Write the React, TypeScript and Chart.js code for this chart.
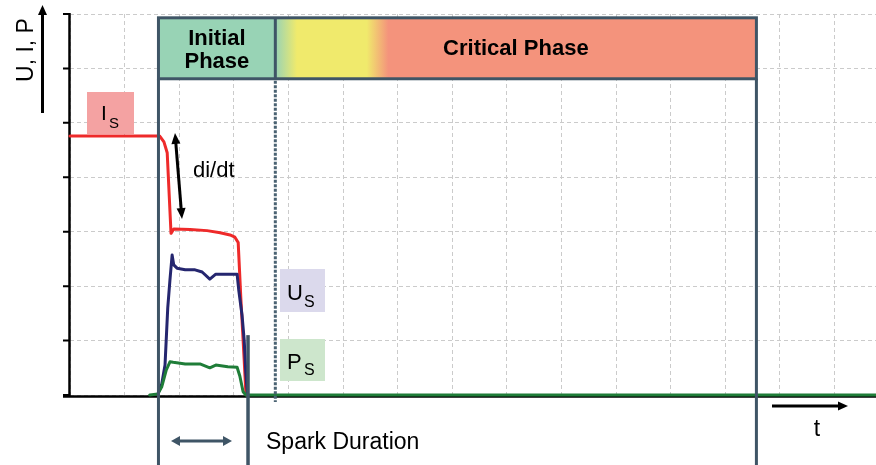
import React, { useEffect, useRef } from 'react';
import { Chart, registerables } from 'chart.js';

Chart.register(...registerables);

// ---- data (time and amplitude in grid units) ----
const currentTime = [0, 1.61, 1.64, 1.72, 1.78, 1.85, 1.90, 2.20, 2.51, 2.75, 2.93, 3.02, 3.08, 3.13, 3.19, 3.22, 3.24];
const currentValue = [4.76, 4.76, 4.76, 4.65, 4.45, 2.97, 3.05, 3.04, 3.02, 2.98, 2.94, 2.90, 2.80, 1.75, 0.64, 0.04, 0];

const voltageTime = [1.61, 1.68, 1.74, 1.79, 1.83, 1.87, 1.90, 1.96, 2.11, 2.29, 2.42, 2.56, 2.67, 2.89, 3.06, 3.09, 3.15, 3.19, 3.22, 3.25];
const voltageValue = [0.02, 0.20, 0.55, 1.60, 2.11, 2.57, 2.39, 2.33, 2.30, 2.30, 2.26, 2.13, 2.22, 2.22, 2.22, 1.93, 1.47, 1.01, 0.40, 0];

const powerTime = [1.46, 1.61, 1.68, 1.76, 1.83, 1.89, 2.11, 2.38, 2.56, 2.67, 2.89, 3.06, 3.11, 3.17, 3.22, 14.76];
const powerValue = [0, 0.02, 0.15, 0.45, 0.61, 0.60, 0.57, 0.57, 0.50, 0.55, 0.52, 0.51, 0.35, 0.06, 0, 0];

const X_MAX = 14.76;
const Y_MAX = 7;

// phase boundaries (time, grid units) and band limits (amplitude, grid units)
const sparkStart = 1.62;
const sparkEnd = 3.26;
const initialEnd = 3.76;
const criticalEnd = 12.57;
const bandTop = 6.93;
const bandBottom = 5.81;

const FONT = '"Liberation Sans", Arial, sans-serif';
const SLATE = '#3f5566';

function toPoints(xs: number[], ys: number[]) {
  return xs.map((x, i) => ({ x, y: ys[i] }));
}

function arrow(
  ctx: CanvasRenderingContext2D,
  x1: number, y1: number, x2: number, y2: number,
  both: boolean, color: string, width: number, hl: number, hw: number
) {
  const ang = Math.atan2(y2 - y1, x2 - x1);
  const cos = Math.cos(ang), sin = Math.sin(ang);
  ctx.save();
  ctx.strokeStyle = color;
  ctx.fillStyle = color;
  ctx.lineWidth = width;
  const sx = both ? x1 + cos * (hl - 1) : x1;
  const sy = both ? y1 + sin * (hl - 1) : y1;
  const ex = x2 - cos * (hl - 1);
  const ey = y2 - sin * (hl - 1);
  ctx.beginPath();
  ctx.moveTo(sx, sy);
  ctx.lineTo(ex, ey);
  ctx.stroke();
  const head = (tx: number, ty: number, dc: number, ds: number) => {
    const bx = tx - dc * hl, by = ty - ds * hl;
    ctx.beginPath();
    ctx.moveTo(tx, ty);
    ctx.lineTo(bx - ds * hw / 2, by + dc * hw / 2);
    ctx.lineTo(bx + ds * hw / 2, by - dc * hw / 2);
    ctx.closePath();
    ctx.fill();
  };
  head(x2, y2, cos, sin);
  if (both) head(x1, y1, -cos, -sin);
  ctx.restore();
}

function subLabel(
  ctx: CanvasRenderingContext2D,
  bx: number, by: number, bw: number, bh: number, fill: string,
  main: string, mx: number, my: number, msize: number,
  sx: number, sy: number, ssize: number
) {
  ctx.save();
  ctx.fillStyle = fill;
  ctx.fillRect(bx, by, bw, bh);
  ctx.fillStyle = '#000';
  ctx.textAlign = 'left';
  ctx.textBaseline = 'alphabetic';
  ctx.font = `${msize}px ${FONT}`;
  ctx.fillText(main, mx, my);
  ctx.font = `${ssize}px ${FONT}`;
  ctx.fillText('S', sx, sy);
  ctx.restore();
}

const axesPlugin = {
  id: 'axesUnder',
  beforeDatasetsDraw(chart: any) {
    const { ctx, chartArea: a, scales } = chart;
    const y = scales.y;
    ctx.save();
    ctx.strokeStyle = '#000';
    ctx.lineWidth = 2.5;
    ctx.beginPath();
    ctx.moveTo(63, a.bottom + 1.6);
    ctx.lineTo(a.right, a.bottom + 1.6);
    ctx.stroke();
    ctx.beginPath();
    ctx.moveTo(a.left - 0.5, a.top - 1);
    ctx.lineTo(a.left - 0.5, a.bottom + 2);
    ctx.stroke();
    ctx.lineWidth = 2;
    ctx.beginPath();
    for (const t of y.ticks) {
      const py = y.getPixelForValue(t.value);
      ctx.moveTo(63, py);
      ctx.lineTo(a.left, py);
    }
    ctx.stroke();
    ctx.restore();
  },
};

const overlayPlugin = {
  id: 'overlay',
  afterDatasetsDraw(chart: any) {
    const { ctx, scales } = chart;
    const X = (v: number) => scales.x.getPixelForValue(v);
    const Y = (v: number) => scales.y.getPixelForValue(v);
    const H = chart.height;
    const bx1 = X(sparkStart), bx2 = X(initialEnd), bx3 = X(criticalEnd);
    const by1 = Y(bandTop), by2 = Y(bandBottom);

    ctx.save();
    // phase boxes
    ctx.fillStyle = '#98d3b5';
    ctx.fillRect(bx1, by1, bx2 - bx1, by2 - by1);
    const g = ctx.createLinearGradient(bx2, 0, bx3, 0);
    g.addColorStop(0, '#98d3b5');
    g.addColorStop(0.045, '#f0ea6c');
    g.addColorStop(0.19, '#f0ea6c');
    g.addColorStop(0.235, '#f4937c');
    g.addColorStop(1, '#f4937c');
    ctx.fillStyle = g;
    ctx.fillRect(bx2, by1, bx3 - bx2, by2 - by1);

    ctx.strokeStyle = SLATE;
    ctx.lineWidth = 3;
    ctx.strokeRect(bx1, by1, bx3 - bx1, by2 - by1);
    const ln = (x1: number, y1: number, x2: number, y2: number) => {
      ctx.beginPath();
      ctx.moveTo(x1, y1);
      ctx.lineTo(x2, y2);
      ctx.stroke();
    };
    ln(bx2, by1, bx2, by2);
    ln(bx1, by2, bx1, H);
    ln(bx3, by2, bx3, H);
    ctx.lineWidth = 3.5;
    const se = X(sparkEnd);
    ln(se, Y(1.1), se, H);

    // dotted divider
    ctx.strokeStyle = '#4a6272';
    ctx.lineWidth = 3;
    ctx.setLineDash([3, 1.5]);
    ln(bx2, by2 + 2, bx2, Y(-0.13));
    ctx.setLineDash([]);

    // phase texts
    ctx.fillStyle = '#000';
    ctx.textAlign = 'center';
    ctx.textBaseline = 'alphabetic';
    ctx.font = `bold 22px ${FONT}`;
    ctx.fillText('Initial', (bx1 + bx2) / 2, 45);
    ctx.fillText('Phase', (bx1 + bx2) / 2, 68);
    ctx.fillText('Critical Phase', (bx2 + bx3) / 2, 55);

    // y axis label + arrow
    ctx.save();
    ctx.translate(33, 50);
    ctx.rotate(-Math.PI / 2);
    ctx.font = `23px ${FONT}`;
    ctx.textAlign = 'center';
    ctx.fillText('U, I, P', 0, 0);
    ctx.restore();
    arrow(ctx, 42.5, 113, 42.5, 5, false, '#000', 3, 10, 9);

    // t arrow
    arrow(ctx, 772, 406, 848, 406, false, '#000', 3, 10, 9);
    ctx.font = `23px ${FONT}`;
    ctx.textAlign = 'center';
    ctx.fillText('t', 817, 436);

    // di/dt
    arrow(ctx, 175, 133, 182, 219, true, '#000', 3, 11, 9);
    ctx.textAlign = 'left';
    ctx.font = `22px ${FONT}`;
    ctx.fillText('di/dt', 193, 177);

    // spark duration
    arrow(ctx, 171, 441, 232, 441, true, SLATE, 3, 9, 10);
    ctx.fillStyle = '#000';
    ctx.font = `23px ${FONT}`;
    ctx.textAlign = 'left';
    ctx.fillText('Spark Duration', 266, 449);

    // series labels
    subLabel(ctx, 87, 92, 47, 42, '#f4a2a2', 'I', 101, 120, 21, 109, 128, 15);
    subLabel(ctx, 280, 269, 45, 43, '#dbd9ec', 'U', 287, 300, 22, 304, 307, 16);
    subLabel(ctx, 280, 339, 45, 42, '#cde6cc', 'P', 287, 369, 22, 304, 375, 16);

    ctx.restore();
  },
};

export default function App() {
  const ref = useRef<HTMLCanvasElement | null>(null);

  useEffect(() => {
    if (!ref.current) return;
    const common = {
      showLine: true,
      pointRadius: 0,
      pointHoverRadius: 0,
      borderWidth: 3,
      borderJoinStyle: 'round' as const,
      borderCapStyle: 'round' as const,
      tension: 0,
      fill: false,
      clip: false as any,
    };
    const chart = new Chart(ref.current, {
      type: 'scatter',
      data: {
        datasets: [
          { ...common, label: 'P', data: toPoints(powerTime, powerValue), borderColor: '#1f7d38', order: 0 },
          { ...common, label: 'U', data: toPoints(voltageTime, voltageValue), borderColor: '#25266f', order: 1 },
          { ...common, label: 'I', data: toPoints(currentTime, currentValue), borderColor: '#ee2a2a', order: 2 },
        ],
      },
      options: {
        animation: false,
        responsive: false,
        devicePixelRatio: 1,
        layout: { padding: { left: 70, top: 14, right: 0, bottom: 70 } },
        plugins: { legend: { display: false }, tooltip: { enabled: false } },
        events: [],
        scales: {
          x: {
            type: 'linear',
            min: 0,
            max: X_MAX,
            ticks: { display: false, stepSize: 1, includeBounds: false },
            grid: { color: '#cbcbcb', lineWidth: 1, drawTicks: false },
            border: { display: false, dash: [4, 3] },
          },
          y: {
            type: 'linear',
            min: 0,
            max: Y_MAX,
            ticks: { display: false, stepSize: 1, includeBounds: false },
            grid: { color: '#cbcbcb', lineWidth: 1, drawTicks: false },
            border: { display: false, dash: [4, 3] },
          },
        },
      },
      plugins: [axesPlugin, overlayPlugin],
    });
    return () => chart.destroy();
  }, []);

  return (
    <div style={{ position: 'fixed', left: 0, top: 0, width: 876, height: 465, background: '#fff' }}>
      <canvas ref={ref} width={876} height={465} style={{ display: 'block' }} />
    </div>
  );
}
